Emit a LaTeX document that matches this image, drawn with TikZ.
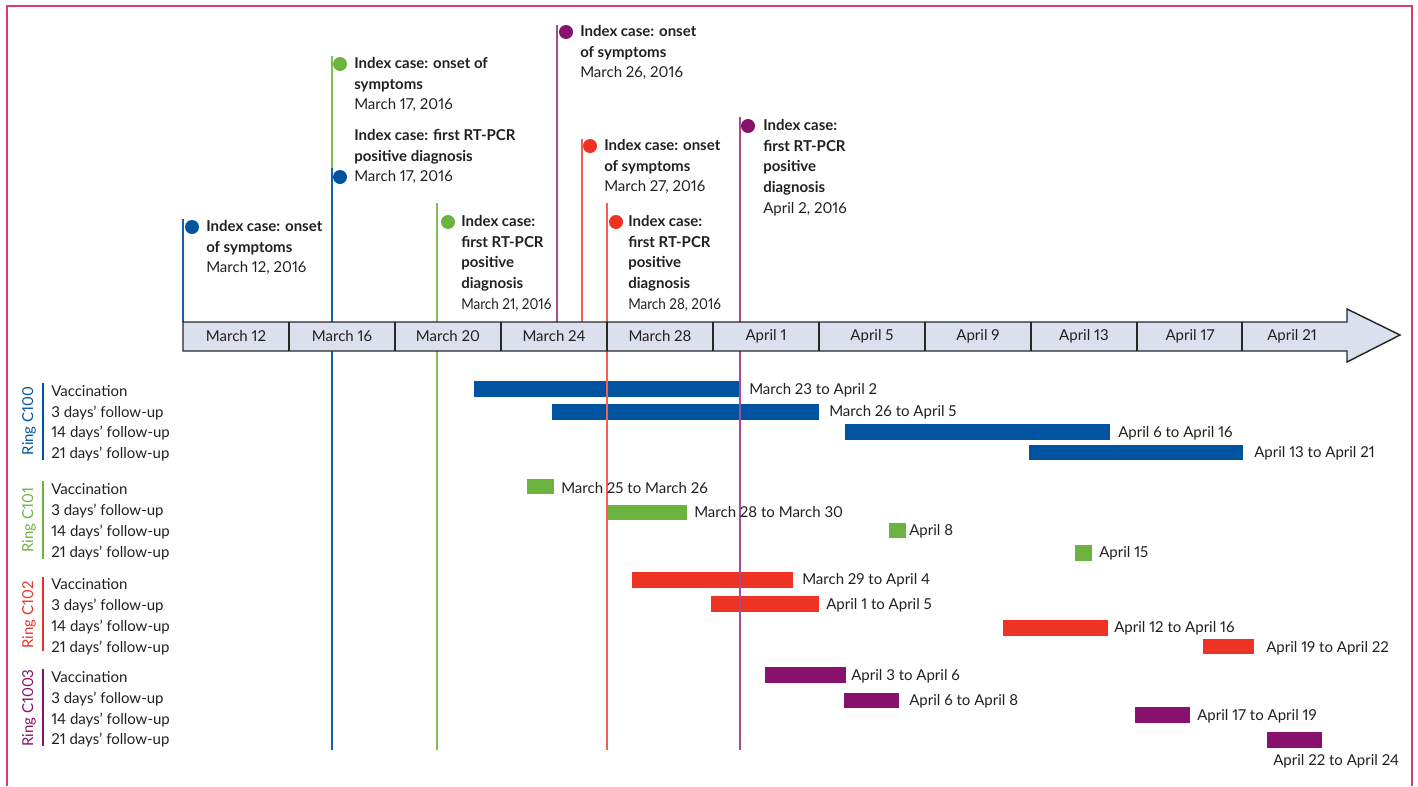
\documentclass[tikz,border=0pt]{standalone}
\usepackage{graphicx}
\usepackage{fontspec}
\setmainfont{Lato}[Numbers=Proportional]
\definecolor{cblue}{RGB}{0,84,159}
\definecolor{cgreen}{RGB}{109,179,63}
\definecolor{cred}{RGB}{238,50,36}
\definecolor{cpurple}{RGB}{136,17,110}
\definecolor{lblue}{RGB}{20,95,175}
\definecolor{lgreen}{RGB}{125,192,80}
\definecolor{lred}{RGB}{242,95,85}
\definecolor{lpurple}{RGB}{165,75,155}
\definecolor{framec}{RGB}{214,60,110}
\definecolor{axisfill}{RGB}{220,223,238}
\definecolor{axisline}{RGB}{40,40,40}
\definecolor{ink}{RGB}{35,31,32}
\newcommand\fs{\fontsize{11.25}{15.5}\selectfont}
\newcommand\narrowtxt[1]{\scalebox{0.9}[1]{#1}}
\begin{document}
\begin{tikzpicture}[x=0.75pt,y=-0.75pt,
  every node/.style={font=\fs, text=ink, inner sep=0pt},
  lb/.style={anchor=base west},
  ev/.style={anchor=north west, align=left},
  dot/.style={circle, minimum size=10.5pt, inner sep=0pt},
  ringlbl/.style={rotate=90, anchor=center},
  vl/.style={line width=1.1pt},
  brk/.style={line width=1.1pt},
]
\useasboundingbox (0,0) rectangle (1418,786);
% frame
\draw[framec, line width=1pt] (7,786) -- (7,6) -- (1412,6) -- (1412,786);

% ---- bars ----
% Ring C100
\fill[cblue] (474,381) rectangle (740,397);
\fill[cblue] (552,404) rectangle (819,420);
\fill[cblue] (845,424) rectangle (1110,440);
\fill[cblue] (1029,445) rectangle (1243,460);
% Ring C101
\fill[cgreen] (527,479) rectangle (554,494);
\fill[cgreen] (607,505) rectangle (687,520);
\fill[cgreen] (889,523) rectangle (906,538);
\fill[cgreen] (1075,545) rectangle (1092,561);
% Ring C102
\fill[cred] (632,572) rectangle (793,588);
\fill[cred] (711,596) rectangle (819,612);
\fill[cred] (1003,620) rectangle (1108,636);
\fill[cred] (1203,639) rectangle (1254,654);
% Ring C1003
\fill[cpurple] (765,667) rectangle (846,683);
\fill[cpurple] (844,693) rectangle (899,708);
\fill[cpurple] (1135,707) rectangle (1190,723);
\fill[cpurple] (1267,732) rectangle (1322,748);

% ---- vertical event lines ----
\draw[vl, lblue] (183,219) -- (183,322);
\draw[vl, lgreen] (332,56) -- (332,168);
\draw[vl, lblue] (332,168) -- (332,750);
\draw[vl, lgreen] (437,203) -- (437,750);
\draw[vl, lpurple] (557,25) -- (557,322);
\draw[vl, lred] (582,139) -- (582,322);
\draw[vl, lred] (607,203) -- (607,750);
\draw[vl, lpurple] (740,117) -- (740,750);

% ---- axis ----
\draw[axisline, line width=1.1pt, fill=axisfill, line join=miter]
  (183,322) -- (1347,322) -- (1347,309) -- (1400,335) -- (1347,362) -- (1347,351) -- (183,351) -- cycle;
\foreach \x in {289,395,501,607,713,819,925,1031,1137,1242}
  \draw[axisline, line width=1.1pt] (\x,322) -- (\x,351);
\foreach \x/\t [count=\i] in {236/March 12,342/March 16,448/March 20,554/March 24,660/March 28,766/April 1,872/April 5,978/April 9,1084/April 13,1190/April 17,1292/April 21}
  \node (ax\i) at (\x,336) {\t};

% ---- event markers ----
\node[dot, fill=cblue] (d1) at (192,227) {};
\node[ev] (t1) at (206,220) {\textbf{Index case: onset}\\\textbf{of symptoms}\\March 12, 2016};
\node[dot, fill=cgreen] (d2) at (340,64) {};
\node[ev] (t2) at (354,57) {\textbf{Index case: onset of}\\\textbf{symptoms}\\March 17, 2016};
\node[dot, fill=cblue] (d3) at (340,177) {};
\node[ev] (t3) at (354,129) {\textbf{Index case: first RT-PCR}\\\textbf{positive diagnosis}\\March 17, 2016};
\node[dot, fill=cgreen] (d4) at (448,222) {};
\node[ev] (t4) at (461,215) {\textbf{Index case:}\\\textbf{first RT-PCR}\\\textbf{positive}\\\textbf{diagnosis}\\\narrowtxt{March 21, 2016}};
\node[dot, fill=cpurple] (d5) at (566,32) {};
\node[ev] (t5) at (580,25) {\textbf{Index case: onset}\\\textbf{of symptoms}\\March 26, 2016};
\node[dot, fill=cred] (d6) at (590,146) {};
\node[ev] (t6) at (604,139) {\textbf{Index case: onset}\\\textbf{of symptoms}\\March 27, 2016};
\node[dot, fill=cred] (d7) at (616,222) {};
\node[ev] (t7) at (628,215) {\textbf{Index case:}\\\textbf{first RT-PCR}\\\textbf{positive}\\\textbf{diagnosis}\\\narrowtxt{March 28, 2016}};
\node[dot, fill=cpurple] (d8) at (748,126) {};
\node[ev] (t8) at (763,119) {\textbf{Index case:}\\\textbf{first RT-PCR}\\\textbf{positive}\\\textbf{diagnosis}\\April 2, 2016};

% ---- ring labels ----
\node[ringlbl, text=cblue] (r1) at (29,421) {Ring C100};
\draw[brk, cblue] (43,383) -- (43,460);
\node[ringlbl, text=cgreen] (r2) at (29,520) {Ring C101};
\draw[brk, cgreen] (43,481) -- (43,559);
\node[ringlbl, text=cred] (r3) at (29,615) {Ring C102};
\draw[brk, cred] (43,577) -- (43,651);
\node[ringlbl, text=cpurple] (r4) at (29,708) {Ring C1003};
\draw[brk, cpurple] (43,669) -- (43,746);

% row labels
\foreach \y/\g in {391/a,489/b,584/c,677/d}{
  \node[lb] (v\g) at (51,\y+5) {Vaccination};
}
\foreach \y/\g in {412/a,510/b,605/c,698/d}{
  \node[lb] (f3\g) at (51,\y+5) {3 days’ follow-up};
}
\foreach \y/\g in {432/a,531/b,626/c,719/d}{
  \node[lb] (f14\g) at (51,\y+5) {14 days’ follow-up};
}
\foreach \y/\g in {453/a,552/b,647/c,739/d}{
  \node[lb] (f21\g) at (51,\y+5) {21 days’ follow-up};
}

% ---- bar labels ----
\node[lb] (b1) at (749,394) {March 23 to April 2};
\node[lb] (b2) at (829,416) {March 26 to April 5};
\node[lb] (b3) at (1118,437) {April 6 to April 16};
\node[lb] (b4) at (1254,457) {April 13 to April 21};
\node[lb] (b5) at (561,493) {March 25 to March 26};
\node[lb] (b6) at (694,517) {March 28 to March 30};
\node[lb] (b7) at (909,535) {April 8};
\node[lb] (b8) at (1099,557) {April 15};
\node[lb] (b9) at (802,584) {March 29 to April 4};
\node[lb] (b10) at (826,609) {April 1 to April 5};
\node[lb] (b11) at (1114,632) {April 12 to April 16};
\node[lb] (b12) at (1266,652) {April 19 to April 22};
\node[lb] (b13) at (851,680) {April 3 to April 6};
\node[lb] (b14) at (909,705) {April 6 to April 8};
\node[lb] (b15) at (1197,720) {April 17 to April 19};
\node[lb] (b16) at (1273,765) {April 22 to April 24};
\end{tikzpicture}
\end{document}
